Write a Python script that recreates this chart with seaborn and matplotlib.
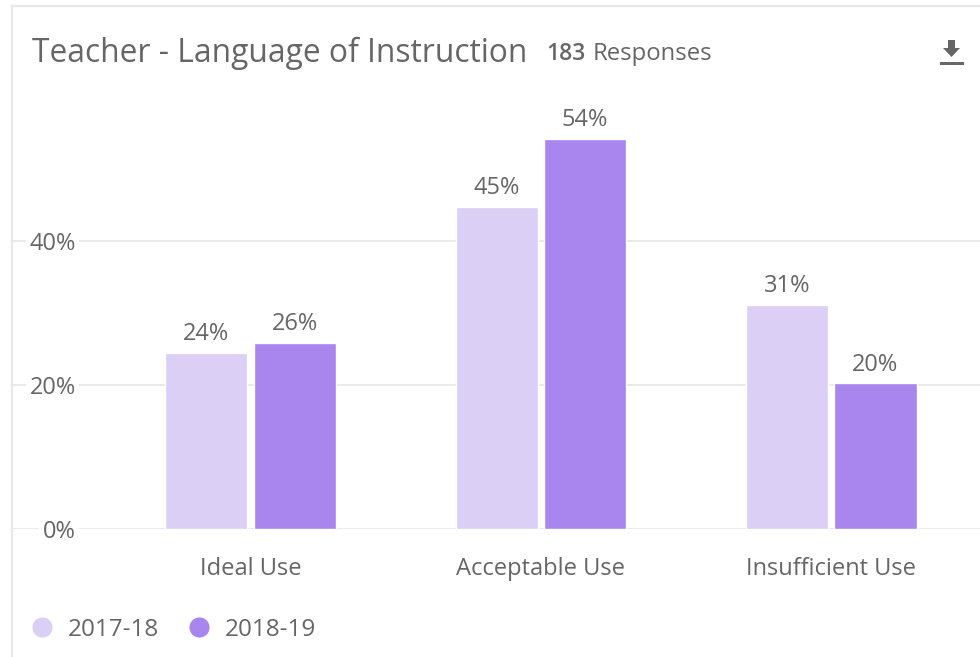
import matplotlib
matplotlib.use("Agg")
import matplotlib.pyplot as plt
from matplotlib.lines import Line2D
from matplotlib.patches import Polygon, Rectangle
import pandas as pd
import seaborn as sns

categories = ["Ideal Use", "Acceptable Use", "Insufficient Use"]
values_2017 = [24.4, 44.7, 31.1]
values_2018 = [25.8, 54.1, 20.2]
years = ["2017-18", "2018-19"]
y_ticks = [0, 20, 40]

light = "#dccff5"
dark = "#a985ee"
grey = "#666666"
line_grey = "#e8e8e8"

sns.set_theme(style="white")
plt.rcParams["font.family"] = ["Open Sans", "DejaVu Sans"]

W, H = 980, 657
fig = plt.figure(figsize=(W / 100, H / 100), dpi=100)
ax = fig.add_axes([12 / W, (H - 529) / H, 968 / W, 523 / H])

df = pd.DataFrame({
    "category": categories * 2,
    "year": [years[0]] * 3 + [years[1]] * 3,
    "value": values_2017 + values_2018,
})
sns.barplot(data=df, x="category", y="value", hue="year", order=categories,
            palette=[light, dark], width=0.608, gap=0.07, saturation=1,
            legend=False, ax=ax)

for c in ax.containers:
    ax.bar_label(c, fmt="%.0f%%", padding=5, fontsize=17, color=grey)

ax.set_xlim(-0.821, 2.512)
ax.set_ylim(0, 72.6)
ax.set_xlabel("")
ax.set_ylabel("")
ax.set_yticks(y_ticks)
ax.set_yticklabels([f"{t}%" for t in y_ticks])
ax.grid(axis="y", color=line_grey, lw=1.3)
ax.set_axisbelow(True)
ax.tick_params(axis="y", length=0, pad=-46, labelsize=17, labelcolor=grey)
ax.tick_params(axis="x", length=0, pad=20, labelsize=17, labelcolor=grey)
for lab in ax.get_yticklabels():
    lab.set_bbox(dict(facecolor="white", edgecolor="none", pad=2.5))

for side in ["right", "bottom"]:
    ax.spines[side].set_visible(False)
for side in ["left", "top"]:
    ax.spines[side].set_color(line_grey)
    ax.spines[side].set_linewidth(1.6)

# card border carries on below the axes
fig.add_artist(Line2D([12 / W, 12 / W], [0, (H - 529) / H], color=line_grey, lw=1.6))

fig.text(32 / W, 1 - 53 / H, "Teacher - Language of Instruction", fontsize=22.9,
         color=grey, va="center", ha="left")
fig.text(546 / W, 1 - 54 / H, "183", fontsize=16.5, color=grey, va="center",
         ha="left", fontweight="semibold")
fig.text(593 / W, 1 - 54 / H, "Responses", fontsize=17.2, color=grey, va="center", ha="left")

# download icon
arrow = [(948, 40), (955, 40), (955, 48), (960, 48), (951.5, 57), (943, 48), (948, 48)]
fig.add_artist(Polygon([(x / W, 1 - y / H) for x, y in arrow], closed=True,
                       transform=fig.transFigure, color=grey, lw=0))
fig.add_artist(Rectangle((940 / W, 1 - 65 / H), 24 / W, 3.5 / H,
                         transform=fig.transFigure, color=grey, lw=0))

handles = [Line2D([], [], ls="", marker="o", ms=14.5, color=c, mew=0) for c in [light, dark]]
fig.legend(handles, years, loc="center left", bbox_to_anchor=(18 / W, 1 - 630 / H),
           ncol=2, frameon=False, fontsize=17.5, labelcolor=grey, handletextpad=0.06,
           columnspacing=0.62, borderpad=0, borderaxespad=0)

fig.savefig("out.png", dpi=100)
